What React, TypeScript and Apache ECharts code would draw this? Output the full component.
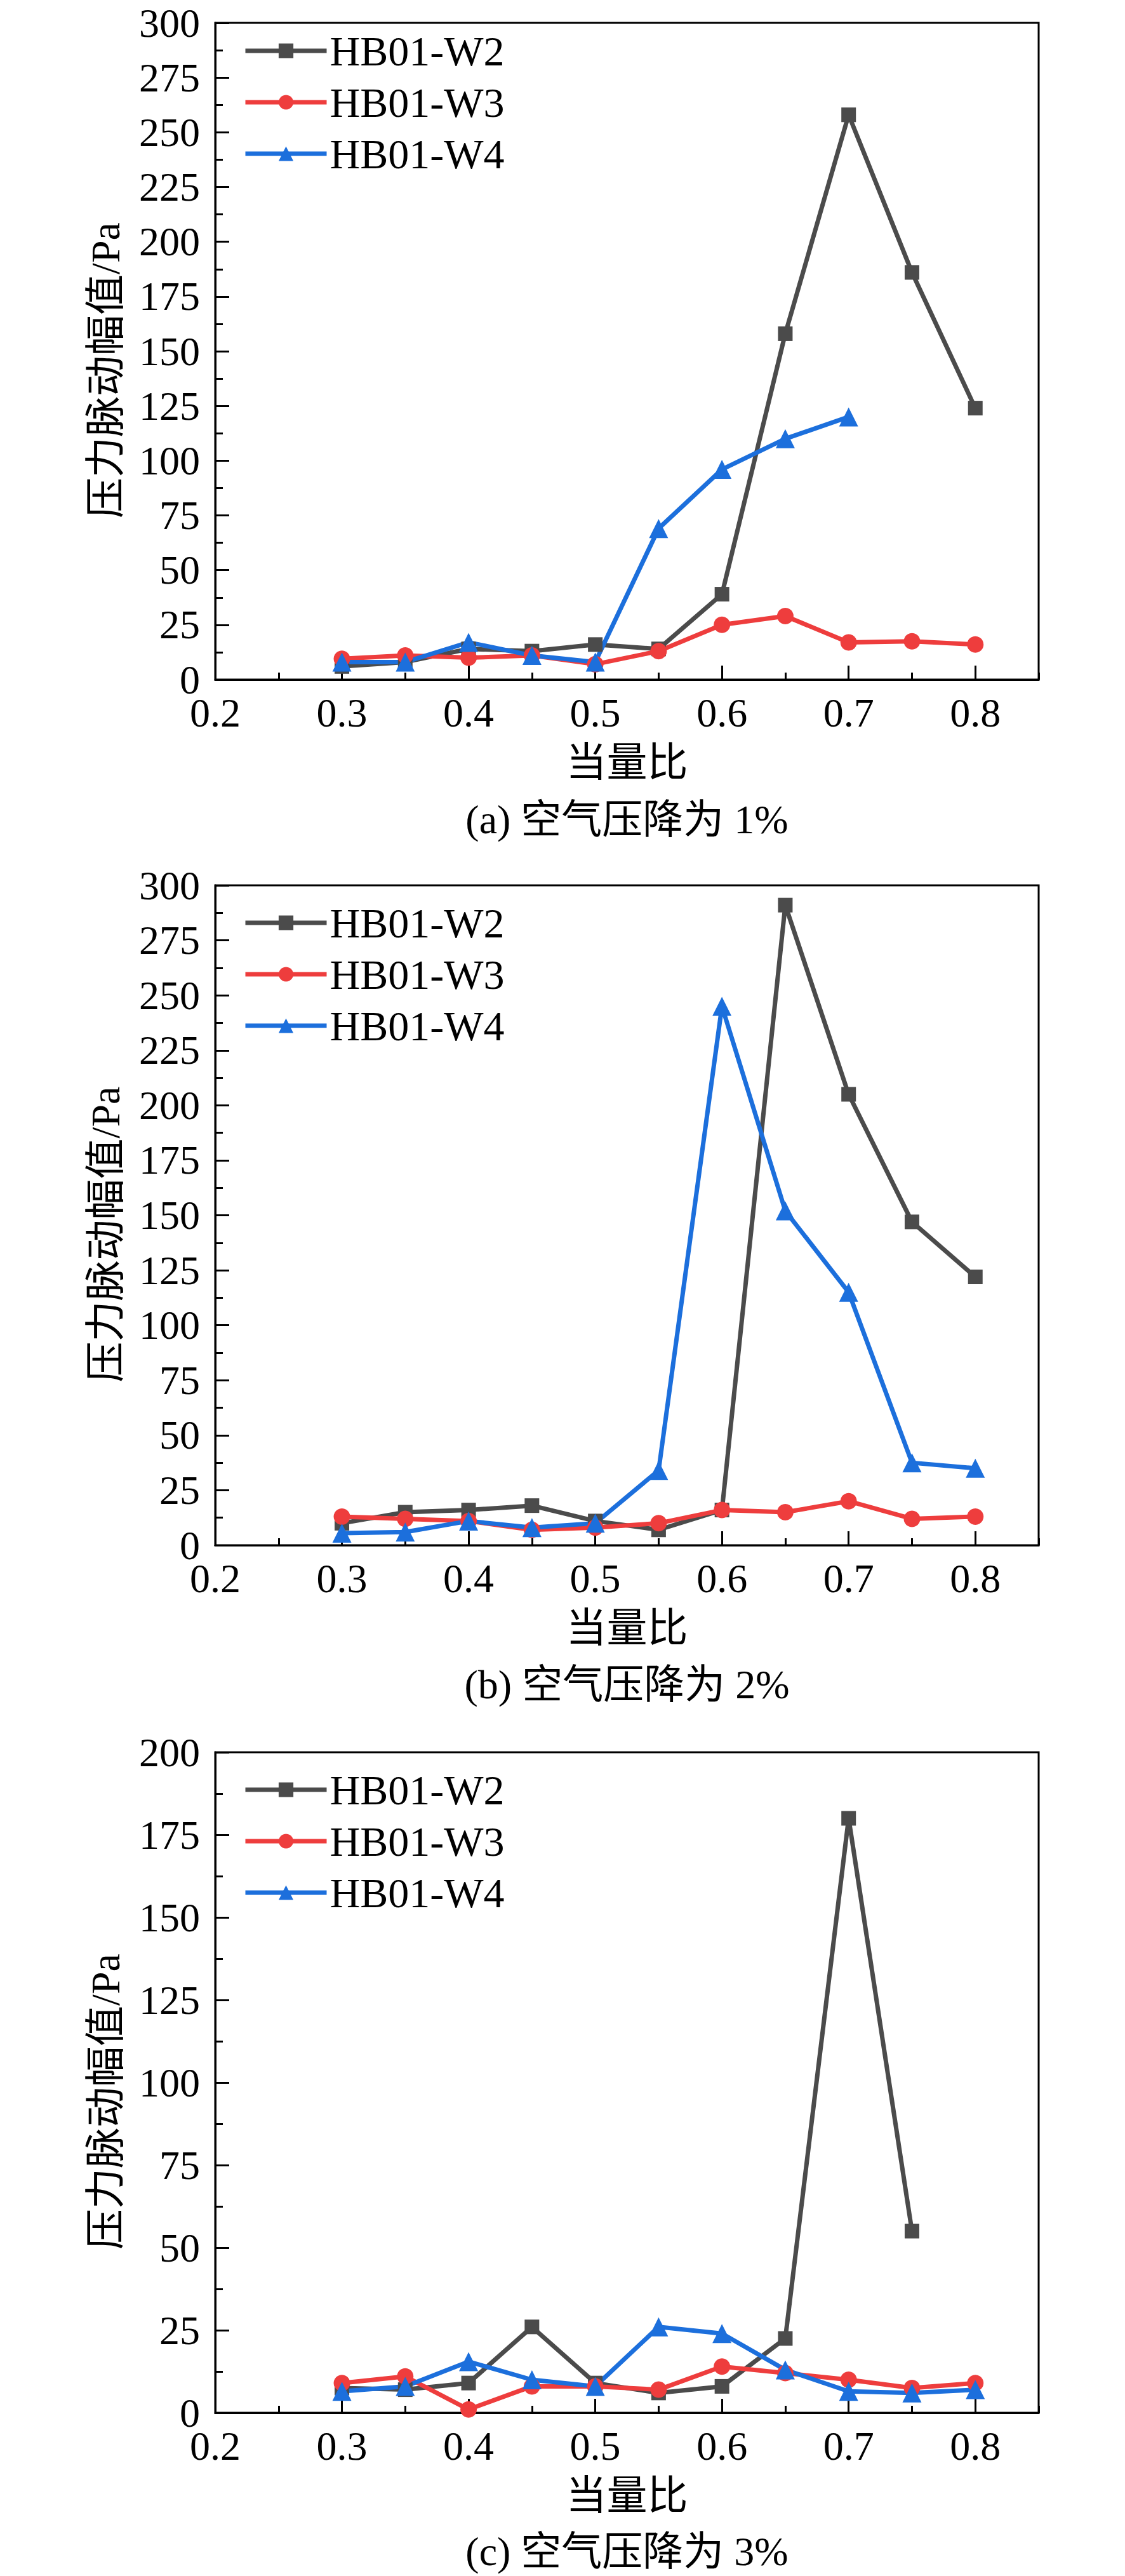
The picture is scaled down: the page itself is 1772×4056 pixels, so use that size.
import { useEffect, useRef } from 'react';
import * as echarts from 'echarts';

// equivalence ratio (x axis)
const ratios = [0.3, 0.35, 0.4, 0.45, 0.5, 0.55, 0.6, 0.65, 0.7, 0.75, 0.8];
const majorTicks = [0.2, 0.3, 0.4, 0.5, 0.6, 0.7, 0.8];
const seriesNames = ['HB01-W2', 'HB01-W3', 'HB01-W4'];

// (a) air pressure drop 1%
const w2A = [6, 8, 14, 13, 16, 14, 39, 158, 258, 186, 124];
const w3A = [9.5, 11, 10, 11, 7, 13, 25, 29, 17, 17.5, 16];
const w4A = [8, 8, 17, 11, 8, 69, 96, 110, 120, null, null];

// (b) air pressure drop 2%
const w2B = [10, 15, 16, 18, 11, 7, 16, 291, 205, 147, 122];
const w3B = [13, 12, 11, 7, 8, 10, 16, 15, 20, 12, 13];
const w4B = [5.5, 6, 11, 8, 10, 34, 245, 152, 115, 37.5, 35];

// (c) air pressure drop 3%
const w2C = [7.5, 7, 9, 26, 9, 6, 8, 22.5, 180, 55, null];
const w3C = [9, 11, 1, 8, 8, 7, 14, 12, 10, 7.5, 9];
const w4C = [6.5, 8, 15.5, 10, 8, 26, 24, 13, 6.5, 6, 7];

const yMaxes = [300, 300, 200];
const yTitle = '压力脉动幅值/Pa';
const xTitle = '当量比';
const captions = ['(a) 空气压降为 1%', '(b) 空气压降为 2%', '(c) 空气压降为 3%'];

const colors = ['#4b4b4b', '#ee3d3d', '#1c6fdc'];
const symbols = ['rect', 'circle', 'triangle'];
const symbolSizes = [23, 26, 30];

const FONT = "'Liberation Serif', 'Times New Roman', 'Noto Sans CJK SC', serif";
const GRID_LEFT = 339;
const GRID_WIDTH = 1297;
const panelTops = [36, 1394, 2759];
const panelHeights = [1034, 1039, 1040];
const legendTops = [47, 1420, 2785];
const captionYs = [1290, 2652, 4017];

const panels = [
  [w2A, w3A, w4A],
  [w2B, w3B, w4B],
  [w2C, w3C, w4C],
];

const toPairs = (vals: (number | null)[]) =>
  ratios.map((r, i) => [r, vals[i]]).filter(p => p[1] !== null);

const black = { color: '#000', width: 3 };

const App = () => {
  const chartRef = useRef<HTMLDivElement>(null);

  useEffect(() => {
    if (!chartRef.current) return;
    const chart = echarts.init(chartRef.current, undefined, { renderer: 'svg' });

    const grid = panelTops.map((top, i) => ({
      left: GRID_LEFT,
      top,
      width: GRID_WIDTH,
      height: panelHeights[i],
      show: true,
      borderColor: '#000',
      borderWidth: 3,
      backgroundColor: 'transparent',
    }));

    const xAxis: any[] = [];
    panelTops.forEach((_, i) => {
      // data axis: minor ticks every 0.05 and the labels
      xAxis.push({
        type: 'value',
        gridIndex: i,
        position: 'bottom',
        min: 0.2,
        max: 0.85,
        interval: 0.05,
        axisLine: { show: true, onZero: false, lineStyle: black },
        axisTick: { show: true, inside: true, length: 11, lineStyle: black },
        axisLabel: {
          show: true,
          customValues: majorTicks,
          formatter: (v: number) => v.toFixed(1),
          margin: 29,
          fontSize: 64,
          lineHeight: 46,
          color: '#000',
          fontFamily: FONT,
        },
        splitLine: { show: false },
        name: xTitle,
        nameLocation: 'middle',
        nameGap: 98,
        nameTextStyle: { fontSize: 64, color: '#000', fontFamily: FONT },
      });
      // overlay axis for the longer major ticks
      xAxis.push({
        type: 'value',
        gridIndex: i,
        position: 'bottom',
        min: 0.2,
        max: 0.85,
        axisLine: { show: false, onZero: false },
        axisTick: { show: true, inside: true, length: 22, customValues: majorTicks, lineStyle: black },
        axisLabel: { show: false },
        splitLine: { show: false },
      });
    });

    const yAxis = yMaxes.map((max, i) => ({
      type: 'value',
      gridIndex: i,
      min: 0,
      max,
      interval: 25,
      axisLine: { show: true, onZero: false, lineStyle: black },
      axisTick: { show: true, inside: true, length: 22, lineStyle: black },
      minorTick: { show: true, splitNumber: 2, length: 12, lineStyle: black },
      axisLabel: { fontSize: 64, lineHeight: 46, margin: 24, color: '#000', fontFamily: FONT },
      splitLine: { show: false },
      minorSplitLine: { show: false },
    }));

    const series: any[] = [];
    panels.forEach((group, i) => {
      group.forEach((vals, k) => {
        series.push({
          type: 'line',
          name: seriesNames[k],
          xAxisIndex: 2 * i,
          yAxisIndex: i,
          data: toPairs(vals),
          symbol: symbols[k],
          symbolSize: symbolSizes[k],
          itemStyle: { color: colors[k] },
          lineStyle: { color: colors[k], width: 7 },
        });
      });
    });

    const legend = legendTops.map(top => ({
      orient: 'vertical',
      left: 383,
      top,
      padding: 0,
      itemWidth: 128,
      itemHeight: 29,
      itemGap: 15,
      selectedMode: false,
      data: seriesNames,
      lineStyle: { width: 7 },
      textStyle: { fontSize: 66, lineHeight: 66, color: '#000', fontFamily: FONT },
    }));

    const graphic: any[] = [];
    panelTops.forEach((top, i) => {
      // rotated y axis title, sitting a little below the plot's middle
      graphic.push({
        type: 'text',
        x: 166,
        y: top + panelHeights[i] / 2 + 30,
        rotation: Math.PI / 2,
        style: {
          text: yTitle,
          fill: '#000',
          fontSize: 64,
          fontFamily: FONT,
          align: 'center',
          verticalAlign: 'middle',
        },
      });
      graphic.push({
        type: 'text',
        x: GRID_LEFT + GRID_WIDTH / 2,
        y: captionYs[i],
        style: {
          text: captions[i],
          fill: '#000',
          fontSize: 64,
          fontFamily: FONT,
          align: 'center',
          verticalAlign: 'middle',
        },
      });
    });

    chart.setOption({
      animation: false,
      backgroundColor: '#fff',
      grid,
      xAxis,
      yAxis,
      legend,
      series,
      graphic,
    });

    return () => {
      chart.dispose();
    };
  }, []);

  return (
    <div
      ref={chartRef}
      style={{ position: 'absolute', left: 0, top: 0, width: '1772px', height: '4056px' }}
    />
  );
};

export default App;
